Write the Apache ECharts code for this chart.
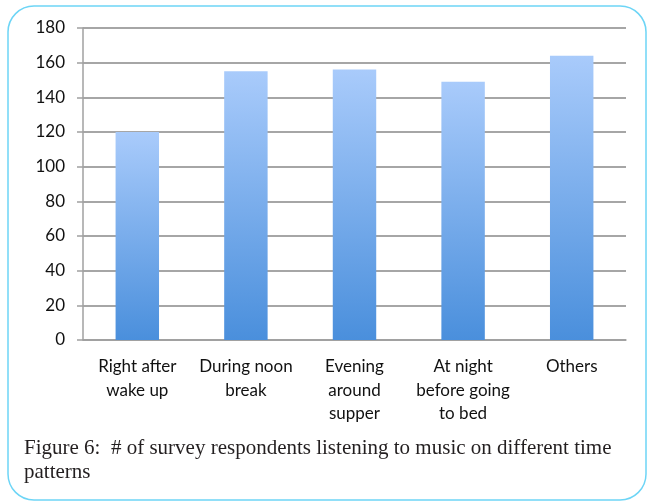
<!DOCTYPE html>
<html>
<head>
<meta charset="utf-8">
<script src="https://cdn.jsdelivr.net/npm/echarts@6/dist/echarts.min.js"></script>
<style>
  html, body { margin: 0; padding: 0; background: #fff; }
  #chart { width: 648px; height: 501px; }
</style>
</head>
<body>
<div id="chart"></div>
<script>
const categories = ['Right after\nwake up', 'During noon\nbreak', 'Evening\naround\nsupper', 'At night\nbefore going\nto bed', 'Others']
const respondents = [120, 155, 156, 149, 164]
const yTicks = { min: 0, max: 180, interval: 20 }
const caption = 'Figure 6:  # of survey respondents listening to music on different time\npatterns'

const chart = echarts.init(document.getElementById('chart'))

chart.setOption({
  animation: false,
  // frame round the figure
  graphic: [
    {
      type: 'rect',
      shape: { x: 8, y: 6, width: 638, height: 494, r: 26 },
      style: { fill: 'none', stroke: '#6dd5f6', lineWidth: 1.5 }
    },
    {
      type: 'text',
      left: 24,
      top: 436,
      style: {
        text: caption,
        font: '21px "Liberation Serif", "DejaVu Serif", serif',
        fill: '#231f20',
        lineHeight: 24
      }
    }
  ],
  grid: {
    left: 83,
    right: 22,
    top: 28,
    bottom: 161
  },
  xAxis: {
    type: 'category',
    data: categories,
    axisLine: { lineStyle: { color: '#a0a0a0', width: 1.5 } },
    axisTick: { length: 6, lineStyle: { color: '#a0a0a0', width: 1.5 } },
    axisLabel: {
      interval: 0,
      margin: 15,
      color: '#111',
      fontFamily: 'Lato, "Open Sans", sans-serif',
      fontSize: 17,
      lineHeight: 23.5
    }
  },
  yAxis: {
    type: 'value',
    min: yTicks.min,
    max: yTicks.max,
    interval: yTicks.interval,
    axisLine: { show: true, lineStyle: { color: '#a0a0a0', width: 1.5 } },
    axisTick: { show: true, length: 6, lineStyle: { color: '#a0a0a0', width: 1.5 } },
    splitLine: { lineStyle: { color: '#a6a6a6', width: 2 } },
    axisLabel: {
      margin: 18,
      color: '#111',
      fontFamily: 'Lato, "Open Sans", sans-serif',
      fontSize: 17
    }
  },
  series: [
    {
      type: 'bar',
      data: respondents,
      barWidth: '40%',
      itemStyle: {
        color: new echarts.graphic.LinearGradient(0, 0, 0, 1, [
          { offset: 0, color: '#a9cbfb' },
          { offset: 1, color: '#4a8fdc' }
        ])
      }
    }
  ]
})
</script>
</body>
</html>
